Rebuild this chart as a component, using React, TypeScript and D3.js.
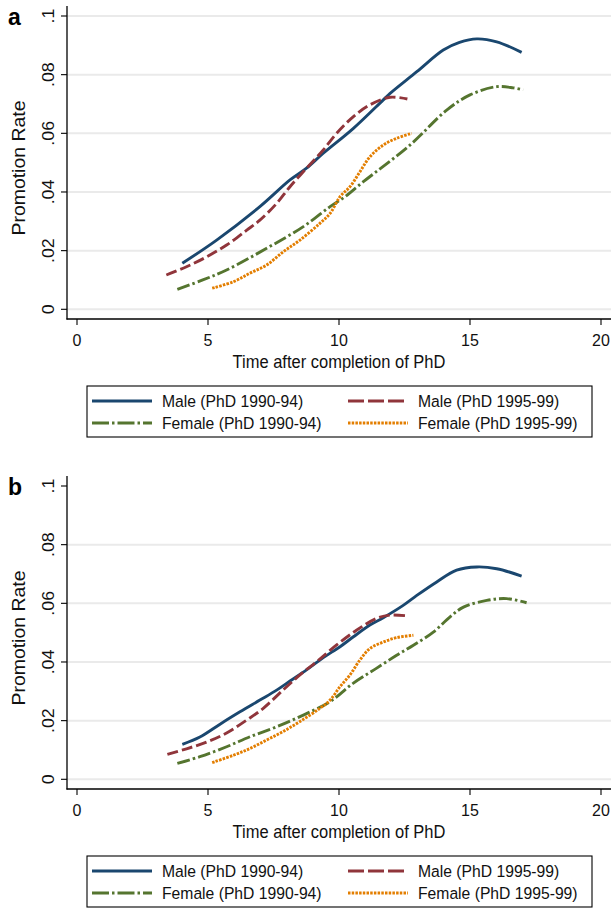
import React from "react";
import * as d3 from "d3";

type Pt = [number, number];

const xTicks = [0, 5, 10, 15, 20];
const yTicks = [0, 0.02, 0.04, 0.06, 0.08, 0.1];
const yTickLabels = ["0", ".02", ".04", ".06", ".08", ".1"];
const xTitle = "Time after completion of PhD";
const yTitle = "Promotion Rate";
const panelLabels = ["a", "b"];
const seriesNames = [
  "Male (PhD 1990-94)",
  "Male (PhD 1995-99)",
  "Female (PhD 1990-94)",
  "Female (PhD 1995-99)",
];

// Panel a
const maleEarlyA: Pt[] = [
  [4.02, 0.0157], [5.33, 0.0236], [6.98, 0.035], [8.13, 0.0441], [8.76, 0.0481],
  [9.4, 0.0532], [10.55, 0.0617], [11.69, 0.0714], [11.95, 0.0736], [12.97, 0.081],
  [13.98, 0.0884], [14.6, 0.091], [15.26, 0.0922], [16.02, 0.0912], [16.97, 0.0876],
];
const maleLateA: Pt[] = [
  [3.41, 0.0117], [4.18, 0.0145], [4.95, 0.0179], [5.71, 0.0219], [6.48, 0.027],
  [6.98, 0.0304], [7.62, 0.0361], [8.13, 0.0418], [8.76, 0.0481], [9.4, 0.0543],
  [9.91, 0.06], [10.55, 0.0657], [11.18, 0.0697], [11.95, 0.0723], [12.61, 0.0717],
];
const femaleEarlyA: Pt[] = [
  [3.83, 0.0068], [4.8, 0.01], [5.71, 0.0134], [7.24, 0.0208], [8.64, 0.0282],
  [9.66, 0.035], [10.23, 0.0384], [10.93, 0.0435], [12.71, 0.056], [14.11, 0.0679],
  [15.0, 0.0731], [16.02, 0.0759], [16.65, 0.0755], [17.03, 0.0748],
];
const femaleLateA: Pt[] = [
  [5.16, 0.0072], [5.97, 0.0094], [6.6, 0.0123], [7.24, 0.0151], [7.87, 0.0196],
  [8.51, 0.0236], [9.27, 0.0293], [9.66, 0.0327], [10.04, 0.0384], [10.42, 0.0418],
  [10.8, 0.0469], [11.18, 0.052], [11.69, 0.056], [12.2, 0.0583], [12.77, 0.06],
];

// Panel b
const maleEarlyB: Pt[] = [
  [4.02, 0.0119], [4.69, 0.0144], [5.46, 0.0188], [6.22, 0.023], [6.98, 0.027],
  [7.62, 0.0304], [8.13, 0.0335], [8.76, 0.0373], [9.4, 0.0415], [10.04, 0.0452],
  [10.55, 0.0486], [11.18, 0.0526], [11.69, 0.0551], [12.45, 0.0593], [12.97, 0.0627],
  [13.73, 0.0673], [14.49, 0.0713], [15.26, 0.0724], [16.02, 0.0718], [16.97, 0.0693],
];
const maleLateB: Pt[] = [
  [3.45, 0.0085], [4.18, 0.0104], [4.95, 0.0127], [5.71, 0.0158], [6.48, 0.0202],
  [7.11, 0.0242], [7.87, 0.0305], [8.51, 0.0356], [9.15, 0.0401], [9.91, 0.0458],
  [10.68, 0.0509], [11.44, 0.0549], [11.95, 0.056], [12.65, 0.0557],
];
const femaleEarlyB: Pt[] = [
  [3.83, 0.0054], [4.69, 0.0077], [5.71, 0.0111], [6.6, 0.0145], [7.62, 0.0179],
  [8.64, 0.0219], [9.66, 0.0265], [10.55, 0.0328], [11.44, 0.0379], [12.2, 0.0423],
  [12.84, 0.0457], [13.6, 0.0502], [14.24, 0.0554], [14.75, 0.0587], [15.64, 0.061],
  [16.4, 0.0616], [17.16, 0.0602],
];
const femaleLateB: Pt[] = [
  [5.16, 0.0057], [5.97, 0.0082], [6.6, 0.0105], [7.24, 0.0134], [7.87, 0.0163],
  [8.51, 0.0197], [9.27, 0.0242], [9.66, 0.027], [10.04, 0.0316], [10.42, 0.0356],
  [10.8, 0.0407], [11.18, 0.0446], [11.69, 0.0468], [12.2, 0.0483], [12.84, 0.0491],
];

const panelData: Pt[][][] = [
  [maleEarlyA, maleLateA, femaleEarlyA, femaleLateA],
  [maleEarlyB, maleLateB, femaleEarlyB, femaleLateB],
];

const colors = ["#1a476f", "#90353b", "#55752f", "#e37e00"];
const dashes = ["none", "11 4", "13 3 2.5 3", "2.5 1.2"];
const legendDashes = ["none", "16 4", "17 3 2.5 3", "2.5 1.2"];

const FONT = "'Liberation Sans', Arial, Helvetica, sans-serif";
const W = 611;
const H = 910;
const PANEL_OFFSET = 470;
const STRETCH = 1.08;

const x = d3.scaleLinear().domain([0, 20]).range([77, 601]);
const y = d3.scaleLinear().domain([0, 0.1]).range([309.3, 16]);

const line = d3
  .line<Pt>()
  .x((d) => x(d[0]))
  .y((d) => y(d[1]))
  .curve(d3.curveCatmullRom.alpha(0.5));

const AXIS_X = 67;
const AXIS_Y = 319;

function HText({ x: tx, y: ty, size, anchor = "start", children }: any) {
  return (
    <text
      transform={`translate(${tx},${ty}) scale(1,${STRETCH})`}
      textAnchor={anchor}
      fontFamily={FONT}
      fontSize={size}
      fill="#111"
    >
      {children}
    </text>
  );
}

function VText({ x: tx, y: ty, size, children }: any) {
  return (
    <text
      transform={`translate(${tx},${ty}) rotate(-90) scale(${STRETCH},1)`}
      textAnchor="middle"
      fontFamily={FONT}
      fontSize={size}
      fill="#111"
    >
      {children}
    </text>
  );
}

function Panel({ idx }: { idx: number }) {
  const oy = idx * PANEL_OFFSET;
  const series = panelData[idx];
  return (
    <g transform={`translate(0,${oy})`}>
      {yTicks.map((t, i) =>
        i === yTicks.length - 1 && idx === 1 ? null : (
          <line key={"g" + i} x1={AXIS_X} x2={W} y1={y(t)} y2={y(t)} stroke="#eaeaea" strokeWidth={2} />
        )
      )}
      {series.map((s, i) => (
        <path
          key={"s" + i}
          d={line(s) || ""}
          fill="none"
          stroke={colors[i]}
          strokeWidth={2.9}
          strokeDasharray={dashes[i]}
          strokeLinejoin="round"
        />
      ))}
      <line x1={AXIS_X} x2={AXIS_X} y1={6} y2={AXIS_Y + 0.5} stroke="#000" strokeWidth={1.3} />
      <line x1={AXIS_X - 0.5} x2={W} y1={AXIS_Y} y2={AXIS_Y} stroke="#000" strokeWidth={1.3} />
      {yTicks.map((t, i) => (
        <g key={"yt" + i}>
          <line x1={AXIS_X - 6} x2={AXIS_X} y1={y(t)} y2={y(t)} stroke="#000" strokeWidth={1.1} />
          <VText x={54} y={y(t)} size={16.5}>
            {yTickLabels[i]}
          </VText>
        </g>
      ))}
      {xTicks.map((t, i) => (
        <g key={"xt" + i}>
          <line x1={x(t)} x2={x(t)} y1={AXIS_Y} y2={AXIS_Y + 6} stroke="#000" strokeWidth={1.1} />
          <HText x={x(t)} y={346} size={16} anchor="middle">
            {t}
          </HText>
        </g>
      ))}
      <HText x={339} y={368} size={16.5} anchor="middle">
        {xTitle}
      </HText>
      <VText x={25} y={168} size={18}>
        {yTitle}
      </VText>
      <text x={8} y={25} fontFamily={FONT} fontSize={23} fontWeight="bold" fill="#000">
        {panelLabels[idx]}
      </text>
      <rect x={87} y={386} width={505} height={51} fill="#fff" stroke="#000" strokeWidth={1.1} />
      {seriesNames.map((name, i) => {
        const col = i % 2;
        const row = Math.floor(i / 2);
        const lx = col === 0 ? 92 : 348;
        const ly = row === 0 ? 401 : 423;
        return (
          <g key={"l" + i}>
            <line
              x1={lx}
              x2={lx + 60}
              y1={ly}
              y2={ly}
              stroke={colors[i]}
              strokeWidth={2.9}
              strokeDasharray={legendDashes[i]}
            />
            <HText x={lx + 70} y={ly + 5.5} size={15.7}>
              {name}
            </HText>
          </g>
        );
      })}
    </g>
  );
}

export default function App() {
  return (
    <svg
      width={W}
      height={H}
      viewBox={`0 0 ${W} ${H}`}
      style={{ position: "absolute", left: 0, top: 0, background: "#fff" }}
    >
      <rect x={0} y={0} width={W} height={H} fill="#fff" />
      <Panel idx={0} />
      <Panel idx={1} />
    </svg>
  );
}
